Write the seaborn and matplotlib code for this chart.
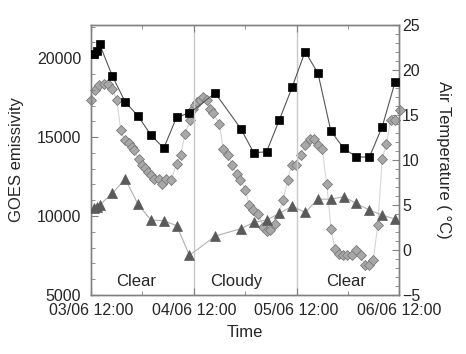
import numpy as np
import pandas as pd
import matplotlib
matplotlib.use("Agg")
import matplotlib.pyplot as plt
import matplotlib.dates as mdates
from matplotlib.ticker import MultipleLocator
import seaborn as sns

# ---- data (hours after 03/06 12:00) ----
start = pd.Timestamp("2004-06-03 12:00")

sq_hours = [0.75, 1.4, 2.0, 5, 8, 11, 14, 17, 20, 23, 29, 35, 38, 41, 44, 47,
            50, 53, 56, 59, 62, 65, 68, 71]
sq_goes = [20250, 20460, 20890, 18860, 17220, 16330, 15130, 14300, 16270, 16520,
           17790, 15530, 14010, 14070, 16100, 18180, 20420, 19050, 15400, 14290,
           13750, 13730, 15650, 18480]

tri_hours = sq_hours
tri_goes = [10490, 10590, 10700, 11440, 12340, 10740, 9750, 9700, 9390, 7510,
            8730, 9200, 9600, 9750, 10170, 10630, 10230, 11070, 11070, 11220,
            10800, 10380, 10060, 9810]

dia_hours = [0.0, 0.93, 1.94, 2.97, 3.97, 4.97, 6.0, 6.94, 7.87, 8.8, 9.57, 10.04,
             11.14, 11.91, 12.54, 13.31, 14.08, 14.71, 15.81, 16.58, 17.59, 18.75,
             19.97, 20.95, 21.95, 23.12, 23.75, 24.29, 24.82, 25.46, 26.09, 27.02,
             27.79, 28.56, 29.96, 30.9, 31.88, 33.0, 33.98, 34.91, 36.08, 36.9,
             37.9, 39.07, 40.24, 41.03, 41.8, 42.97, 44.91, 45.94, 46.87, 47.99,
             48.97, 50.09, 51.07, 52.0, 53.01, 53.99, 55.07, 56.05, 56.98, 57.92,
             58.85, 59.86, 60.95, 61.96, 62.98, 63.94, 64.97, 65.93, 66.98, 68.0,
             69.0, 70.0, 71.07, 72.05]
dia_temp = [16.7, 17.8, 18.3, 18.4, 18.4, 17.9, 16.7, 13.3, 12.2, 11.9, 11.4, 11.1,
            10.1, 9.5, 9.1, 8.7, 8.3, 7.9, 7.9, 7.3, 7.9, 7.8,
            9.6, 10.6, 12.9, 14.4, 15.7, 16.1, 16.4, 16.7, 17.0, 16.7,
            15.7, 15.2, 14.0, 11.2, 10.6, 9.5, 8.4, 7.8, 6.7, 5.0,
            4.4, 4.0, 2.6, 2.1, 2.2, 2.9, 5.6, 7.8, 9.5, 9.5,
            10.6, 11.7, 12.3, 12.3, 11.7, 11.2, 7.3, 2.3, 0.1, -0.4,
            -0.5, -0.5, -0.5, 0.0, -0.6, -1.7, -1.7, -1.1, 2.8, 10.1,
            11.8, 14.5, 14.5, 15.6]

sky_labels = ["Clear", "Cloudy", "Clear"]
sky_hours = [10.5, 34, 59.5]
divider_hours = [24, 48]


def to_time(h):
    return start + pd.to_timedelta(np.asarray(h, dtype=float), unit="h")


df_sq = pd.DataFrame({"time": to_time(sq_hours), "val": sq_goes})
df_tri = pd.DataFrame({"time": to_time(tri_hours), "val": tri_goes})
df_dia = pd.DataFrame({"time": to_time(dia_hours), "val": dia_temp})

sns.set_style("ticks")
plt.rcParams["font.family"] = ["Liberation Sans", "DejaVu Sans"]
plt.rcParams["font.size"] = 11.5

fig = plt.figure(figsize=(4.66, 3.54), dpi=100)
ax = fig.add_axes([91 / 466, 1 - 295 / 354, (399.3 - 91) / 466, (295 - 25) / 354])
ax2 = ax.twinx()

# gridlines at day boundaries
for h in divider_hours:
    ax.axvline(to_time([h])[0], color="#c8c8c8", lw=1.0, zorder=0)

sns.lineplot(data=df_dia, x="time", y="val", ax=ax2, sort=False, estimator=None,
             color="#d6d6d6", lw=0.8, marker="D", markersize=4.6,
             markerfacecolor="#a8a8a8", markeredgecolor="#7a7a7a",
             markeredgewidth=0.6, clip_on=False, zorder=2)
sns.lineplot(data=df_tri, x="time", y="val", ax=ax, sort=False, estimator=None,
             color="#b0b0b0", lw=0.8, marker="^", markersize=7,
             markerfacecolor="#5a5a5a", markeredgecolor="#5a5a5a",
             markeredgewidth=0.5, zorder=3)
sns.lineplot(data=df_sq, x="time", y="val", ax=ax, sort=False, estimator=None,
             color="#555555", lw=0.8, marker="s", markersize=5.4,
             markerfacecolor="black", markeredgecolor="black",
             markeredgewidth=0.5, zorder=4)

# put ax (squares/triangles) above ax2 (diamonds)
ax.set_zorder(ax2.get_zorder() + 1)
ax.patch.set_visible(False)

ax.set_xlim(to_time([0])[0], to_time([72])[0])
ax.set_ylim(5000, 22100)
ax2.set_ylim(-5, 25)

ax.xaxis.set_major_locator(mdates.HourLocator(byhour=12))
ax.xaxis.set_major_formatter(mdates.DateFormatter("%d/%m %H:%M"))
ax.xaxis.set_minor_locator(mdates.HourLocator(byhour=0))
ax.yaxis.set_major_locator(MultipleLocator(5000))
ax.yaxis.set_minor_locator(MultipleLocator(1000))
ax2.yaxis.set_major_locator(MultipleLocator(5))
ax2.yaxis.set_minor_locator(MultipleLocator(1))

spine_col = "#808080"
for a in (ax, ax2):
    for s in a.spines.values():
        s.set_visible(True)
        s.set_color(spine_col)
        s.set_linewidth(1.0)
ax.tick_params(axis="both", which="both", direction="in", color=spine_col,
               top=True, right=False, labelsize=11.5)
ax.tick_params(axis="x", which="major", pad=6)
ax.tick_params(axis="y", which="major", pad=7)
ax.tick_params(which="major", length=5)
ax.tick_params(which="minor", length=3)
ax2.tick_params(axis="y", which="both", direction="in", color=spine_col,
                labelsize=11.5, pad=2)
ax2.tick_params(which="major", length=5)
ax2.tick_params(which="minor", length=3)

ax.set_xlabel("Time", fontsize=12, labelpad=5)
ax.set_ylabel("GOES emissivity", fontsize=12, labelpad=9)
ax2.set_ylabel("Air Temperature ( °C)", fontsize=12, rotation=270, labelpad=22)

for lab, h in zip(sky_labels, sky_hours):
    ax.text(to_time([h])[0], 5850, lab, ha="center", va="center", fontsize=12)

fig.savefig("out.png", dpi=100)
